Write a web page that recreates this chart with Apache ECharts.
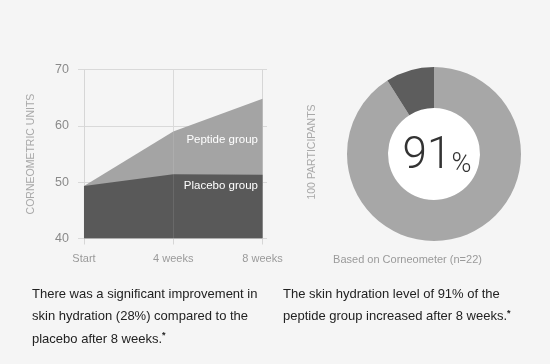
<!DOCTYPE html>
<html>
<head>
<meta charset="utf-8">
<script src="https://cdn.jsdelivr.net/npm/echarts@6/dist/echarts.min.js"></script>
<style>
html,body{margin:0;padding:0;background:#f5f5f5;}
#c{width:550px;height:364px;}
</style>
</head>
<body>
<div id="c"></div>
<script>
var categories = ['Start', '4 weeks', '8 weeks'];
var peptide = [49.3, 59.0, 64.8];
var placebo = [49.3, 51.4, 51.3];
var yTicks = [40, 50, 60, 70];
var pieValues = [91, 9];
var pieNames = ['Increased', 'Other'];

var chart = echarts.init(document.getElementById('c'));
var font = 'Liberation Sans, Arial, sans-serif';

function pts(arr) { return arr.map(function (v, i) { return [i, v]; }); }

var richBody = {
  t: { fontSize: 13, fontFamily: font, fill: '#222', lineHeight: 22.5 },
  s: { fontSize: 9, fontFamily: font, fontWeight: 'bold', fill: '#222', lineHeight: 12, verticalAlign: 'top', padding: [3.5, 0, 0, 0] }
};

chart.setOption({
  backgroundColor: '#f5f5f5',
  animation: false,
  grid: { left: 78, right: 283, top: 69.5, bottom: 125.5 },
  xAxis: {
    type: 'value', min: -0.067, max: 2.05,
    axisLine: { show: false },
    splitLine: { show: false },
    axisTick: { show: true, customValues: [0, 1, 2], length: 6, lineStyle: { color: '#d6d6d6' } },
    axisLabel: {
      customValues: [0, 1, 2], margin: 15, color: '#9a9a9a', fontSize: 11, fontFamily: font,
      formatter: function (v) { return categories[Math.round(v)]; }
    }
  },
  yAxis: {
    type: 'value', min: yTicks[0], max: yTicks[yTicks.length - 1], interval: 10,
    name: 'CORNEOMETRIC UNITS', nameLocation: 'middle', nameGap: 41, nameRotate: 90,
    nameTextStyle: { color: '#a8a8a8', fontSize: 10.5, fontFamily: font },
    axisLine: { show: false }, axisTick: { show: false },
    axisLabel: { margin: 9, color: '#8a8a8a', fontSize: 12.5, fontFamily: font },
    splitLine: { lineStyle: { color: '#d9d9d9' } }
  },
  series: [
    {
      type: 'line', name: 'grid', data: pts(peptide), symbol: 'none', z: 1, silent: true,
      lineStyle: { width: 0, opacity: 0 },
      markLine: {
        z: 1, silent: true, symbol: 'none', label: { show: false },
        lineStyle: { color: '#d6d6d6', type: 'solid', width: 1 },
        data: [{ xAxis: 0 }, { xAxis: 1 }, { xAxis: 2 }]
      }
    },
    {
      type: 'line', name: 'Peptide group', data: pts(peptide), symbol: 'none', z: 2,
      lineStyle: { width: 0 }, areaStyle: { color: '#a4a4a4', opacity: 1, origin: 'start' }
    },
    {
      type: 'line', name: 'Placebo group', data: pts(placebo), symbol: 'none', z: 3,
      lineStyle: { width: 0 }, areaStyle: { color: '#595959', opacity: 1, origin: 'start' },
      markLine: {
        z: 5, silent: true, symbol: 'none', label: { show: false },
        lineStyle: { color: 'rgba(255,255,255,0.1)', type: 'solid', width: 1 },
        data: [{ xAxis: 1 }]
      }
    },
    {
      type: 'pie', center: [434, 154], radius: [46, 87], startAngle: 90, clockwise: true,
      label: { show: false }, labelLine: { show: false }, silent: true,
      data: pieValues.map(function (v, i) {
        return { value: v, name: pieNames[i], itemStyle: { color: i === 0 ? '#a7a7a7' : '#5d5d5d' } };
      })
    }
  ],
  graphic: [
    { type: 'circle', shape: { cx: 434, cy: 154, r: 46 }, style: { fill: '#ffffff' }, z: 0, silent: true },
    { type: 'text', x: 258, y: 140, style: { text: 'Peptide group', fill: '#ffffff', font: '11.5px ' + font, align: 'right', verticalAlign: 'middle' }, z: 10 },
    { type: 'text', x: 258, y: 186, style: { text: 'Placebo group', fill: '#ffffff', font: '11.5px ' + font, align: 'right', verticalAlign: 'middle' }, z: 10 },
    {
      type: 'text', x: 437, y: 154, z: 10,
      style: {
        text: '{a|' + pieValues[0] + '}{b|%}', align: 'center', verticalAlign: 'middle',
        rich: {
          a: { fontSize: 44, fontFamily: 'Roboto', fontWeight: 300, fill: '#333', lineHeight: 50, verticalAlign: 'bottom' },
          b: { fontSize: 27, fontFamily: 'Roboto', fontWeight: 300, fill: '#333', lineHeight: 50, verticalAlign: 'bottom' }
        }
      }
    },
    { type: 'text', x: 312, y: 152, rotation: Math.PI / 2, style: { text: '100 PARTICIPANTS', fill: '#a8a8a8', font: '10.5px ' + font, align: 'center', verticalAlign: 'middle' } },
    { type: 'text', x: 407.5, y: 260, style: { text: 'Based on Corneometer (n=22)', fill: '#9a9a9a', font: '11px ' + font, align: 'center', verticalAlign: 'middle' } },
    {
      type: 'text', x: 32, y: 283,
      style: {
        text: '{t|There was a significant improvement in}\n{t|skin hydration (28%) compared to the}\n{t|placebo after 8 weeks.}{s|*}',
        rich: richBody
      }
    },
    {
      type: 'text', x: 283, y: 283,
      style: {
        text: '{t|The skin hydration level of 91% of the}\n{t|peptide group increased after 8 weeks.}{s|*}',
        rich: richBody
      }
    }
  ]
});
</script>
</body>
</html>
